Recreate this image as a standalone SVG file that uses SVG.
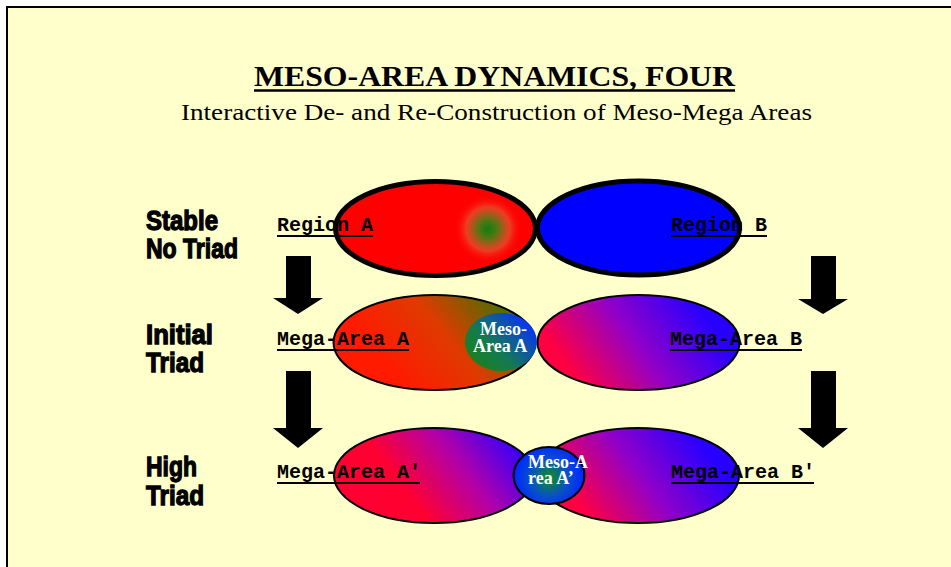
<svg xmlns="http://www.w3.org/2000/svg" width="951" height="567" viewBox="0 0 951 567">
  <defs>
    <style>
      .title { font-family: "Liberation Serif", "Times New Roman", serif; font-weight: bold; font-size: 30px; fill: #000; }
      .subtitle { font-family: "Liberation Serif", "Times New Roman", serif; font-size: 23px; fill: #000; }
      .row { font-family: "Liberation Sans Narrow", "Liberation Sans", Arial, sans-serif; font-weight: bold; font-size: 28px; fill: #000; stroke: #000; stroke-width: 1.3px; }
      .lbl { font-family: "Liberation Mono", "Courier New", monospace; font-weight: bold; font-size: 20px; fill: #000; }
      .uline { stroke: #000; stroke-width: 2.2; }
      .meso { font-family: "Liberation Serif", "Times New Roman", serif; font-weight: bold; font-size: 18px; fill: #fff; }
      .thick { stroke: #000; stroke-width: 5; }
      .thin { stroke: #000; stroke-width: 2; }
      .arrow { fill: #000; }
    </style>
    <radialGradient id="spot" cx="488" cy="229" r="34" gradientUnits="userSpaceOnUse">
      <stop offset="0" stop-color="#0E7E12"/>
      <stop offset="0.3" stop-color="#5E7414"/>
      <stop offset="0.65" stop-color="#E8502E" stop-opacity="0.75"/>
      <stop offset="1" stop-color="#FF0000" stop-opacity="0"/>
    </radialGradient>
    <linearGradient id="gMegaA" x1="405" y1="388" x2="515" y2="298" gradientUnits="userSpaceOnUse">
      <stop offset="0" stop-color="#FF1A00"/>
      <stop offset="0.45" stop-color="#E03A00"/>
      <stop offset="1" stop-color="#2E7A00"/>
    </linearGradient>
    <linearGradient id="gMegaB" x1="580" y1="385" x2="695" y2="302" gradientUnits="userSpaceOnUse">
      <stop offset="0" stop-color="#FF0040"/>
      <stop offset="0.5" stop-color="#9000C8"/>
      <stop offset="1" stop-color="#2800FF"/>
    </linearGradient>
    <linearGradient id="gMegaA2" x1="420" y1="510" x2="515" y2="438" gradientUnits="userSpaceOnUse">
      <stop offset="0" stop-color="#FF0030"/>
      <stop offset="0.5" stop-color="#B000A8"/>
      <stop offset="1" stop-color="#3000FF"/>
    </linearGradient>
    <linearGradient id="gMegaB2" x1="585" y1="515" x2="695" y2="435" gradientUnits="userSpaceOnUse">
      <stop offset="0" stop-color="#FF0040"/>
      <stop offset="0.5" stop-color="#9000C8"/>
      <stop offset="1" stop-color="#2800FF"/>
    </linearGradient>
    <linearGradient id="gMesoA" x1="478" y1="366" x2="528" y2="318" gradientUnits="userSpaceOnUse">
      <stop offset="0" stop-color="#1A8020"/>
      <stop offset="0.35" stop-color="#147A50"/>
      <stop offset="1" stop-color="#0830FF"/>
    </linearGradient>
    <radialGradient id="gMesoA2" cx="549" cy="478" r="34" gradientUnits="userSpaceOnUse">
      <stop offset="0" stop-color="#10901A"/>
      <stop offset="0.55" stop-color="#0850C8"/>
      <stop offset="1" stop-color="#0028FF"/>
    </radialGradient>
  </defs>

  <!-- page -->
  <rect x="0" y="0" width="951" height="567" fill="#ffffff"/>
  <rect x="7" y="7" width="944" height="560" fill="#FFFFCC"/>
  <line x1="6" y1="7" x2="951" y2="7" stroke="#000" stroke-width="2"/>
  <line x1="7" y1="6" x2="7" y2="567" stroke="#000" stroke-width="2"/>

  <!-- heading -->
  <g id="heading">
    <text class="title" x="254" y="86" textLength="481" lengthAdjust="spacingAndGlyphs">MESO-AREA DYNAMICS, FOUR</text>
    <line x1="254" y1="90.5" x2="735" y2="90.5" stroke="#000" stroke-width="2.5"/>
    <text class="subtitle" x="181" y="120" textLength="631" lengthAdjust="spacingAndGlyphs">Interactive De- and Re-Construction of Meso-Mega Areas</text>
  </g>

  <!-- row titles -->
  <g id="row-stable">
    <text class="row" x="146" y="230" textLength="72" lengthAdjust="spacingAndGlyphs">Stable</text>
    <text class="row" x="146" y="258" textLength="92" lengthAdjust="spacingAndGlyphs">No Triad</text>
  </g>
  <g id="row-initial">
    <text class="row" x="146" y="344" textLength="67" lengthAdjust="spacingAndGlyphs">Initial</text>
    <text class="row" x="146" y="372" textLength="58" lengthAdjust="spacingAndGlyphs">Triad</text>
  </g>
  <g id="row-high">
    <text class="row" x="146" y="476" textLength="51" lengthAdjust="spacingAndGlyphs">High</text>
    <text class="row" x="146" y="505" textLength="58" lengthAdjust="spacingAndGlyphs">Triad</text>
  </g>

  <!-- step arrows -->
  <g id="connectors">
    <polygon class="arrow" points="286,256 311,256 311,298 323,298 298,314 273,298 286,298"/>
    <polygon class="arrow" points="286,371 311,371 311,428 323,428 298,448 273,428 286,428"/>
    <polygon class="arrow" points="811,256 836,256 836,299 848,299 823,314 798,299 811,299"/>
    <polygon class="arrow" points="811,371 836,371 836,428 848,428 823,448 798,428 811,428"/>
  </g>

  <!-- row 1: stable regions -->
  <g id="region-b">
    <ellipse cx="638.5" cy="228" rx="101" ry="47" fill="#0000FF" class="thick"/>
  </g>
  <g id="region-a">
    <ellipse cx="435.5" cy="228.5" rx="100" ry="47" fill="#FF0000" class="thick"/>
    <circle cx="488" cy="229" r="34" fill="url(#spot)"/>
  </g>
  <g id="region-a-label">
    <text class="lbl" x="277" y="231">Region A</text>
    <line class="uline" x1="277" y1="236" x2="373" y2="236"/>
  </g>
  <g id="region-b-label">
    <text class="lbl" x="671" y="231">Region B</text>
    <line class="uline" x1="671" y1="236" x2="767" y2="236"/>
  </g>

  <!-- row 2: initial triad -->
  <g id="mega-area-a">
    <ellipse cx="434.5" cy="342.5" rx="101" ry="47.5" fill="url(#gMegaA)" class="thin"/>
  </g>
  <g id="mega-area-b">
    <ellipse cx="638.5" cy="342.5" rx="101" ry="47.5" fill="url(#gMegaB)" class="thin"/>
  </g>
  <g id="meso-area-a">
    <ellipse cx="501" cy="342" rx="36" ry="29" fill="url(#gMesoA)"/>
    <text class="meso" x="480" y="335">Meso-</text>
    <text class="meso" x="473" y="352">Area A</text>
  </g>
  <g id="mega-area-a-label">
    <text class="lbl" x="277" y="345">Mega-Area A</text>
    <line class="uline" x1="277" y1="350" x2="409" y2="350"/>
  </g>
  <g id="mega-area-b-label">
    <text class="lbl" x="670" y="345">Mega-Area B</text>
    <line class="uline" x1="670" y1="350" x2="802" y2="350"/>
  </g>

  <!-- row 3: high triad -->
  <g id="mega-area-a2">
    <ellipse cx="434" cy="475.5" rx="100" ry="47.5" fill="url(#gMegaA2)" class="thin"/>
  </g>
  <g id="mega-area-b2">
    <ellipse cx="638" cy="475.5" rx="101" ry="47.5" fill="url(#gMegaB2)" class="thin"/>
  </g>
  <g id="meso-area-a2">
    <ellipse cx="549" cy="475.5" rx="35.5" ry="28.5" fill="url(#gMesoA2)" class="thin"/>
    <text class="meso" x="528" y="468">Meso-A</text>
    <text class="meso" x="528" y="484">rea A’</text>
  </g>
  <g id="mega-area-a2-label">
    <text class="lbl" x="277" y="478">Mega-Area A′</text>
    <line class="uline" x1="277" y1="483" x2="420" y2="483"/>
  </g>
  <g id="mega-area-b2-label">
    <text class="lbl" x="671" y="478">Mega-Area B′</text>
    <line class="uline" x1="671" y1="483" x2="814" y2="483"/>
  </g>
</svg>
